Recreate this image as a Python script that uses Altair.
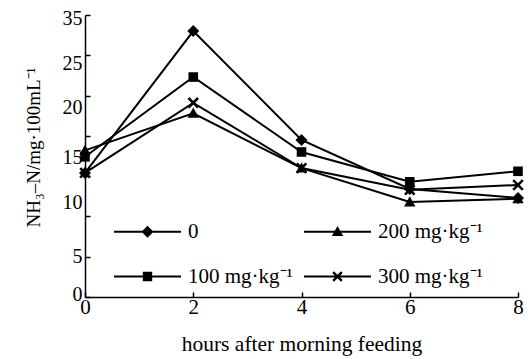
import altair as alt
import pandas as pd

hours = [0, 2, 4, 6, 8]
series_names = ["0", "100 mg·kg⁻¹", "200 mg·kg⁻¹", "300 mg·kg⁻¹"]
vals_0 = [15.4, 33.0, 19.5, 13.4, 12.3]
vals_100 = [17.4, 27.3, 18.0, 14.3, 15.6]
vals_200 = [18.2, 22.8, 16.0, 11.8, 12.2]
vals_300 = [15.4, 24.1, 16.0, 13.3, 13.9]
y_ticks = [0, 5, 10, 15, 20, 25, 30, 35]
x_ticks = [0, 2, 4, 6, 8]
legend_order = ["0", "100 mg·kg⁻¹", "200 mg·kg⁻¹", "300 mg·kg⁻¹"]

rows = []
for name, vals in zip(series_names, [vals_0, vals_100, vals_200, vals_300]):
    for h, v in zip(hours, vals):
        rows.append({"hour": h, "value": v, "series": name})
df = pd.DataFrame(rows)

FONT = "Liberation Serif"

mark_paths = [
    "M0,-1L1,0L0,1L-1,0Z",
    "M-0.8,-0.8H0.8V0.8H-0.8Z",
    "M0,-0.95L0.95,0.75L-0.95,0.75Z",
    "M-0.65,-0.95L0.95,0.65L0.65,0.95L-0.95,-0.65Z"
    "M0.95,-0.65L-0.65,0.95L-0.95,0.65L0.65,-0.95Z",
]
BAR = "M-1,-0.03H1V0.03H-1Z"
legend_paths = [
    BAR + "M0,-0.18L0.18,0L0,0.18L-0.18,0Z",
    BAR + "M-0.14,-0.14H0.14V0.14H-0.14Z",
    BAR + "M0,-0.17L0.17,0.13L-0.17,0.13Z",
    BAR + "M-0.105,-0.155L0.155,0.105L0.105,0.155L-0.155,-0.105Z"
    "M0.155,-0.105L-0.105,0.155L-0.155,0.105L0.105,-0.155Z",
]

x_enc = alt.X(
    "hour:Q",
    scale=alt.Scale(domain=[0, 8], nice=False),
    axis=alt.Axis(
        values=x_ticks,
        title="hours after morning feeding",
        titleY=47,
        titleBaseline="middle",
        titleFontSize=21.5,
        labelFontSize=21,
        labelPadding=4,
        labelFlush=False,
        tickSize=alt.ExprRef(expr="-5"),
    ),
)
y_enc = alt.Y(
    "value:Q",
    scale=alt.Scale(domain=[0, 35], nice=False),
    axis=alt.Axis(
        values=y_ticks,
        title="NH₃–N/mg·100mL⁻¹",
        titleX=-52,
        titleY=132,
        titleAngle=-90,
        titleAlign="center",
        titleBaseline="middle",
        titleFontSize=19,
        labelFontSize=20,
        labelPadding=8,
        labelFlush=False,
        labelExpr="datum.value == 30 ? '' : datum.label",
        labelOffset=alt.ExprRef(
            expr="datum.value == 35 ? 3 : datum.value == 25 ? -32 : datum.value == 20 ? -28 : datum.value == 15 ? -19 : datum.value == 10 ? -14 : datum.value == 0 ? -3 : 0"
        ),
        tickSize=alt.ExprRef(expr="-5"),
    ),
)

lines = alt.Chart(df).mark_line(color="black", strokeWidth=2).encode(
    x=x_enc, y=y_enc, detail="series:N"
)
points = alt.Chart(df).mark_point(
    filled=True, color="black", size=144, opacity=1
).encode(
    x=x_enc,
    y=y_enc,
    shape=alt.Shape(
        "series:N",
        scale=alt.Scale(domain=legend_order, range=mark_paths),
        legend=None,
    ),
)
legend_layer = alt.Chart(df).transform_filter("false").mark_point(
    filled=True, color="black", size=4489, opacity=1
).encode(
    x=x_enc,
    y=y_enc,
    shape=alt.Shape(
        "series:N",
        scale=alt.Scale(domain=legend_order, range=legend_paths),
        legend=alt.Legend(
            title=None,
            orient="none",
            legendX=28,
            legendY=182,
            columns=2,
            columnPadding=8,
            rowPadding=-42,
            padding=0,
            symbolSize=4489,
            symbolFillColor="black",
            symbolOpacity=1,
            labelOffset=6,
            labelFont=FONT,
            labelFontSize=21,
            labelColor="black",
            labelLimit=300,
        ),
    ),
)

chart = (
    alt.layer(lines, points, legend_layer)
    .resolve_scale(shape="independent")
    .properties(
        width=433,
        height=282,
        padding={"left": 77, "top": 7, "right": 6, "bottom": 60},
        autosize="none",
        background="white",
    )
    .configure_view(stroke=None)
    .configure_axis(
        grid=False,
        domainColor="black",
        domainWidth=1.5,
        tickColor="black",
        tickWidth=1.5,
        labelFont=FONT,
        labelColor="black",
        titleFont=FONT,
        titleFontWeight="normal",
        titleColor="black",
    )
)

chart.save("out.html", embed_options={"renderer": "svg", "actions": False})
